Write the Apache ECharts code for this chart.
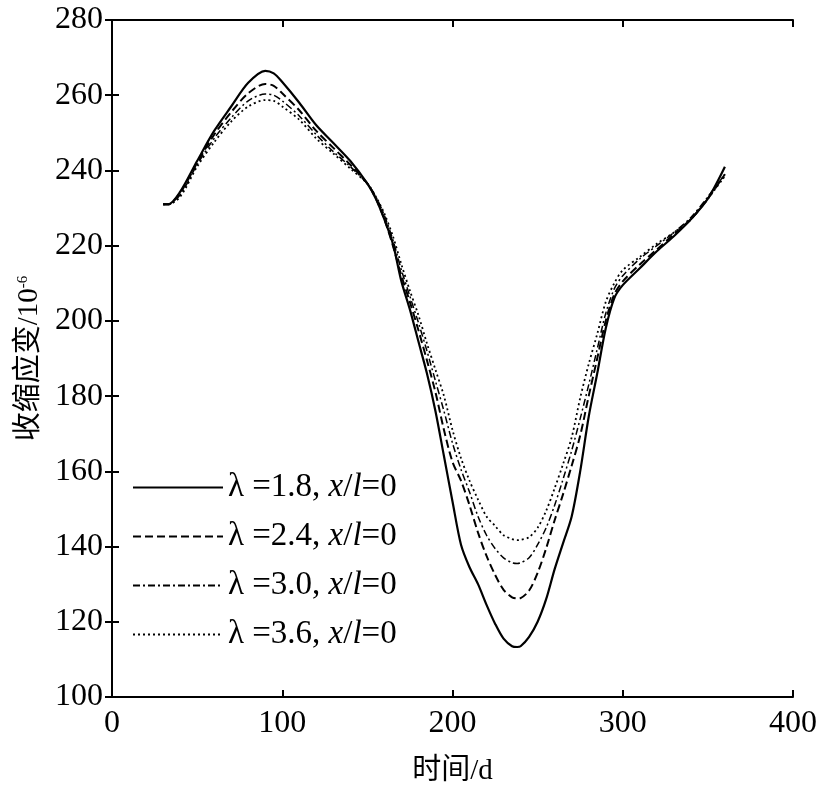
<!DOCTYPE html>
<html>
<head>
<meta charset="utf-8">
<script src="https://cdn.jsdelivr.net/npm/echarts@6/dist/echarts.min.js"></script>
<style>html,body{margin:0;padding:0;background:#fff;}#c{width:821px;height:787px;}</style>
</head>
<body>
<div id="c"></div>
<script>
var days = [30, 33, 40, 50, 60, 70, 80, 90, 95, 100, 110, 120, 130, 140, 150, 155, 160, 165, 170, 175, 180, 185, 190, 195, 200, 205, 210, 215, 220, 225, 230, 235, 238, 240, 245, 250, 255, 260, 265, 270, 275, 280, 285, 290, 295, 300, 310, 320, 330, 340, 350, 360];
var strain18 = [231, 231, 234.3, 242.5, 250.5, 257, 263.3, 266.5, 265.8, 263.5, 258, 252, 247.3, 242.5, 236.5, 232.5, 227, 220.5, 210.5, 203, 194.5, 186, 176, 164, 152, 140.5, 134.5, 130, 124.5, 119.5, 115.5, 113.5, 113.3, 113.5, 116, 120, 126, 134, 141, 148, 160, 174.5, 186, 198, 206, 209.5, 214, 218.5, 222.5, 227, 232.5, 241];
var strain24 = [231, 231, 234, 242, 249.5, 255.5, 260.5, 263, 262.5, 260.5, 256, 250.5, 246, 241.5, 236.5, 232.5, 227, 220, 212, 205, 197.5, 189.5, 181, 171, 162.5, 157.5, 151, 143.7, 137.5, 132.5, 128.5, 126.5, 126.2, 126.3, 128.3, 133, 139.5, 147, 154, 161.5, 169.5, 180, 190, 200, 207, 210.5, 215, 219, 223, 227, 232.5, 239];
var strain30 = [231, 231, 233.5, 241.5, 248.5, 254, 258.5, 260.3, 260, 258.5, 254.5, 249.5, 245, 241, 236.5, 233, 228, 221.5, 213.5, 206.5, 199.5, 192, 184, 176, 167.5, 160.5, 154.5, 148, 143, 139.5, 137, 135.7, 135.5, 135.7, 137, 140.5, 145, 151, 158, 165.5, 174, 183, 192.5, 202, 208.5, 212, 216.5, 220, 223.5, 227.5, 233, 239];
var strain36 = [231, 231, 233, 241, 247.5, 253, 257, 258.7, 258.5, 257, 253.5, 248.5, 244.5, 240.5, 236.5, 233, 228.5, 222.5, 215, 208, 201.5, 194, 187, 180, 171, 163.5, 157.5, 152.5, 148, 145.5, 143, 142, 141.7, 141.8, 142.5, 145, 149.5, 155.5, 162, 169, 179.5, 188.5, 196.5, 205, 210, 213.5, 217, 220.5, 223.5, 227, 232.5, 238.5];
var seriesNames = ['λ=1.8', 'λ=2.4', 'λ=3.0', 'λ=3.6'];
var legendLabels = ['λ =1.8, ', 'λ =2.4, ', 'λ =3.0, ', 'λ =3.6, '];
var yTicks = [100, 120, 140, 160, 180, 200, 220, 240, 260, 280];
var xTicks = [0, 100, 200, 300, 400];

function pairs(v) { return days.map(function (d, i) { return [d, v[i]]; }); }
var serif = '"Liberation Serif", "Times New Roman", serif';
var cjk = '"Liberation Serif", "Noto Sans CJK SC", serif';

var styles = [
  { type: 'solid', width: 2.2 },
  { type: [8, 4], width: 2 },
  { type: [7, 3, 2, 3], width: 1.5 },
  { type: [2, 3], width: 1.8 }
];
var allData = [strain18, strain24, strain30, strain36];

var tickStyle = { show: true, length: -7, lineStyle: { color: '#000', width: 2 } };

var chart = echarts.init(document.getElementById('c'), null, { renderer: 'canvas' });
var option = {
  backgroundColor: '#fff',
  animation: false,
  grid: { left: 112, right: 28, top: 20, bottom: 90, containLabel: false, outerBoundsMode: 'none' },
  legend: {
    orient: 'vertical',
    left: 127,
    top: 466,
    itemWidth: 90,
    itemHeight: 14,
    itemGap: 16,
    data: seriesNames,
    itemStyle: { opacity: 0 },
    formatter: function (name) {
      var i = seriesNames.indexOf(name);
      return '{n|' + legendLabels[i] + '}{i|x}{n|/}{i|l}{n|=0}';
    },
    textStyle: {
      color: '#000',
      rich: {
        n: { fontFamily: serif, fontSize: 33, color: '#000', lineHeight: 32 },
        i: { fontFamily: serif, fontSize: 33, fontStyle: 'italic', color: '#000', lineHeight: 32 }
      }
    }
  },
  xAxis: [{
    type: 'value', min: 0, max: 400, interval: 100, position: 'bottom',
    name: '时间/d', nameLocation: 'middle', nameGap: 60,
    nameTextStyle: { fontFamily: cjk, fontSize: 29, color: '#000' },
    axisLine: { show: true, lineStyle: { color: '#000', width: 2 } },
    axisTick: tickStyle,
    axisLabel: { fontFamily: serif, fontSize: 32, color: '#000', margin: 11,
      formatter: function (v) { return xTicks.indexOf(v) >= 0 ? String(v) : ''; } },
    splitLine: { show: false }
  }, {
    type: 'value', min: 0, max: 400, interval: 100, position: 'top',
    axisLine: { show: true, lineStyle: { color: '#000', width: 2 } },
    axisTick: tickStyle,
    axisLabel: { show: false }, splitLine: { show: false }
  }],
  yAxis: [{
    type: 'value', min: 100, max: 280, interval: 20, position: 'left',
    name: '收缩应变/10{sup|-6}', nameLocation: 'middle', nameGap: 66, nameRotate: 90,
    nameTextStyle: { fontFamily: cjk, fontSize: 29, color: '#000',
      rich: { sup: { fontFamily: serif, fontSize: 15, color: '#000', verticalAlign: 'top', padding: [0, 0, 14, 0] } } },
    axisLine: { show: true, lineStyle: { color: '#000', width: 2 } },
    axisTick: tickStyle,
    axisLabel: { fontFamily: serif, fontSize: 32, color: '#000', margin: 9,
      formatter: function (v) { return yTicks.indexOf(v) >= 0 ? String(v) : ''; } },
    splitLine: { show: false }
  }, {
    type: 'value', min: 100, max: 280, interval: 20, position: 'right',
    axisLine: { show: true, lineStyle: { color: '#000', width: 2 } },
    axisTick: tickStyle,
    axisLabel: { show: false }, splitLine: { show: false }
  }],
  series: seriesNames.map(function (n, i) {
    return {
      name: n, type: 'line', xAxisIndex: 0, yAxisIndex: 0,
      data: pairs(allData[i]),
      showSymbol: false, symbol: 'none', smooth: 0.3,
      lineStyle: { color: '#000', width: styles[i].width, type: styles[i].type },
      itemStyle: { color: '#000' }
    };
  })
};
chart.setOption(option);
</script>
</body>
</html>
